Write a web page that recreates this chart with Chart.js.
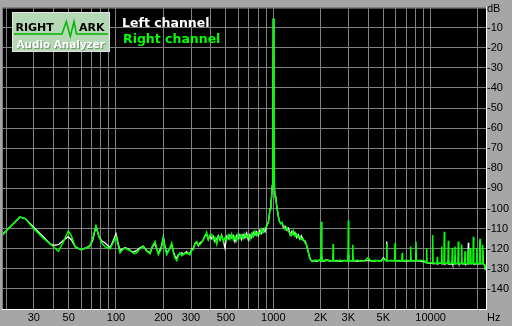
<!DOCTYPE html>
<html><head><meta charset="utf-8">
<script src="https://cdn.jsdelivr.net/npm/chart.js@4.4.1/dist/chart.umd.min.js"></script>
<style>
html,body{margin:0;padding:0;background:#a6a6a6;}
#wrap{position:relative;width:512px;height:326px;overflow:hidden;background:#a6a6a6;}
canvas{display:block;}
</style></head>
<body><div id="wrap"><canvas id="c" width="512" height="326"></canvas></div>
<script>
const freqs = [18.85,21,24.5,26.5,30,34.5,38,40,43,46,49.7,52,55,60,65,68,71,74.6,78,81,85,91.6,96,100,103,106,110,114,120,126,130,135,142,149,157,165,170,177,186,194,200,205,210,218,226,232,237,243,249,255,262,268,275,281,288,295,303,310,318,326,334,342,350,358,367,377,386,396,406,416,426,437,447,458,469,481,493,505,517,530,544,557,570,584,597,613,628,643,660,677,693,710,728,746,764,783,802,822,843,864,886,909,932,953,965,975,985,993,1000,1008,1017,1028,1040,1053,1066,1080,1097,1115,1134,1160,1190,1220,1250,1280,1310,1339,1370,1405,1440,1475,1510,1548,1590,1625,1665,1700,1725,1756,1790,1830,1870,1920,1978,2010,2023,2036,2100,2170,2250,2330,2388,2400,2412,2550,2650,2750,2850,2982,3000,3018,3180,3200,3220,3450,3600,3800,4000,4200,4400,4600,4850,5000,5220,5250,5280,5600,5905,5940,5975,6300,6560,6600,6640,7000,7430,7470,7510,8030,8075,8120,8600,9100,9390,9445,9500,9900,10250,10310,10370,10700,10970,11030,11090,11700,11770,11840,12150,12220,12290,12880,12960,13040,13660,13740,13820,14200,14290,14380,14900,15000,15100,15660,15760,15860,16450,16550,16650,17260,17370,17480,17870,17980,18090,18570,18690,18810,19520,19640,19760,20480,20610,20740,21300,21440,21580,22000,22170,22500];
const leftDb = [-113,-109.5,-104.3,-105,-109.3,-114,-117.5,-118.3,-118,-116,-114,-115.5,-119,-120.5,-119.5,-118.5,-116,-109,-114,-116,-117,-119.5,-116,-112.5,-117,-121,-120,-119.5,-120,-121.5,-121.5,-121,-119.5,-118.7,-121,-122,-119,-117.5,-122.5,-119,-114,-119,-122,-120.5,-118,-121.5,-123.5,-124.8,-123,-122.5,-122,-122.8,-122,-121.5,-122.5,-122.2,-120,-119.8,-117.5,-116.8,-118.5,-117,-116.5,-115.8,-113.5,-113,-115.5,-113.5,-115,-113.8,-116.5,-115,-113.5,-115.8,-113.2,-116,-119.7,-113.8,-115,-113.2,-114.6,-113.5,-116.5,-113.4,-114.8,-113,-115.5,-113,-114.6,-112.2,-115.5,-113,-114.5,-111.8,-113.2,-111.6,-113.5,-110.8,-112.4,-110.2,-111.6,-108.5,-106.5,-100,-97,-94.5,-88.5,-60,-5.5,-60,-90.5,-94,-96,-99,-101.8,-104.5,-106.6,-107.5,-107,-109.5,-108.8,-110.8,-109.8,-113.2,-111.4,-112.8,-111.8,-114.4,-113,-115.2,-113.6,-115.8,-116.2,-118,-121.3,-124,-125.4,-126.2,-126.2,-125.8,-126.3,-126,-125.8,-126,-124,-126,-126.3,-125.5,-126,-126.2,-126,-124,-126,-125.8,-126.3,-126,-125.8,-126.2,-123,-126,-126,-124.5,-126,-126.3,-125.8,-126,-125.8,-126,-126.2,-125.8,-126,-124.5,-126,-116.4,-126,-125.8,-126,-125,-126,-125.8,-126,-126,-126,-126.2,-126,-124,-126,-126,-122,-126,-126.2,-126.5,-127,-127,-127,-127.2,-127.3,-127,-127.5,-127.3,-127.5,-127.3,-127.5,-127.2,-127,-127.6,-127.4,-127.2,-127.5,-127.3,-126,-127.6,-127.5,-127,-127.8,-127.4,-126.5,-127.5,-127.3,-127,-127.6,-127.4,-127.2,-127.5,-127.4,-127.2,-127.6,-127.4,-117,-127.5,-127.4,-127.3,-127.5,-127.4,-127.4,-127.6,-127.5,-127.3,-127.5,-127.4,-116,-127.5,-127.4,-121,-127.5,-128,-130,-130.5];
const rightDb = [-113.5,-109.5,-104.2,-105,-110,-114.8,-117.5,-119,-121.3,-117,-111.2,-113.5,-119,-120.5,-119.5,-119,-115,-108.6,-114,-117,-119,-120,-117,-114,-118,-122.1,-120.5,-119.7,-120.5,-121.3,-122.5,-122.1,-120,-118.9,-121.3,-122.5,-119,-116.4,-122.9,-120,-114.8,-119.5,-122.9,-120.5,-117.2,-122,-124.6,-125.9,-123.5,-122.1,-123.5,-123,-122.1,-122.5,-122.1,-123,-120.5,-120.5,-117.2,-116.4,-118.2,-118,-117,-115.6,-114,-111.8,-115.5,-113.2,-112.8,-115.5,-114.5,-117.8,-113.8,-115.2,-113.5,-116.5,-114.5,-115.8,-113.2,-115.3,-112.6,-115.6,-114,-116,-112.8,-114.8,-113.3,-115,-112.6,-114.2,-113.4,-115.5,-112.5,-114,-111.2,-113.4,-111.8,-112.8,-110.2,-111.8,-109.6,-108.8,-106.6,-100.1,-97,-94.4,-88.6,-60,-5.3,-60,-90.4,-94,-96,-99,-101.8,-104.5,-106.6,-107.5,-107,-108.5,-110.5,-109.5,-111.5,-112.4,-113.5,-111,-113.6,-112.6,-114.5,-113.8,-115.4,-115,-117,-118,-121.3,-124.5,-125.4,-126.2,-126.4,-126,-125.6,-126,-125.4,-126,-106.6,-126,-125.8,-126,-125.6,-126.2,-126,-117.7,-126,-126.3,-125.7,-126.2,-125.9,-126,-106,-126,-126,-118,-126,-125.8,-126.2,-126,-124.5,-126.3,-125.8,-126,-126.2,-125,-126,-117.7,-126,-126,-126,-117.2,-126,-126.2,-126,-122,-126,-125.8,-126,-118.9,-126.2,-126,-116.4,-126,-125.8,-126,-127,-119.7,-127,-127,-127,-113.2,-127,-127.2,-127.3,-124,-127.2,-127,-118.9,-127.3,-127.2,-111.5,-127.2,-127.2,-116,-127.3,-127.2,-119.7,-127.3,-127.3,-118.9,-127.5,-127.2,-116.4,-127.4,-127.2,-117.9,-127.2,-127.3,-121.3,-127.3,-127.3,-120,-127.3,-127.2,-119.7,-127.3,-127.2,-114,-127.4,-127.3,-119.7,-127.4,-127.3,-115,-127.3,-127.3,-118,-127.5,-128,-130,-130.5];
const xTickValues = [20,30,40,50,60,70,80,90,100,200,300,400,500,600,700,800,900,1000,2000,3000,4000,5000,6000,7000,8000,9000,10000,20000];
const xTickLabels = {30:'30',50:'50',100:'100',200:'200',300:'300',500:'500',1000:'1000',2000:'2K',3000:'3K',5000:'5K',10000:'10000'};
const seriesNames = ['Left channel','Right channel'];
const seriesColors = ['#ffffff','#00ff00'];

const decor = {
  id:'decor',
  beforeDraw(chart){
    const {ctx, chartArea:a} = chart;
    ctx.save();
    ctx.fillStyle = '#000000';
    ctx.fillRect(a.left, a.top, a.right - a.left, a.bottom - a.top);
    ctx.restore();
  },
  afterDraw(chart){
    const {ctx, chartArea:a} = chart;
    ctx.save();
    ctx.strokeStyle = '#808080'; ctx.lineWidth = 1;
    ctx.beginPath();
    ctx.moveTo(a.left + 0.5, a.bottom); ctx.lineTo(a.left + 0.5, a.top + 0.5); ctx.lineTo(a.right, a.top + 0.5);
    ctx.stroke();
    ctx.fillStyle = '#000'; ctx.font = '11px "Liberation Sans", Arial, sans-serif';
    ctx.textAlign = 'left'; ctx.textBaseline = 'alphabetic';
    ctx.fillText('dB', a.right + 1, 11.5);
    ctx.fillText('Hz', a.right + 1, 320.5);
    ctx.fillStyle = '#b5d8b5';
    ctx.fillRect(12, 12, 98, 40);
    ctx.strokeStyle = '#e6e6e6'; ctx.strokeRect(12.5, 12.5, 97, 39);
    ctx.strokeStyle = '#00b400'; ctx.lineWidth = 1.5; ctx.lineJoin = 'miter';
    ctx.beginPath();
    ctx.moveTo(14, 34); ctx.lineTo(62, 34); ctx.lineTo(66.3, 21.5); ctx.lineTo(70.3, 36.5);
    ctx.lineTo(74, 21.5); ctx.lineTo(76.5, 34); ctx.lineTo(108, 34);
    ctx.stroke();
    ctx.font = 'bold 11px "DejaVu Sans", sans-serif';
    ctx.fillStyle = '#000';
    ctx.fillText('RIGHT', 15.5, 31);
    ctx.fillText('ARK', 79, 31);
    ctx.font = 'bold 10.4px "DejaVu Sans", sans-serif';
    ctx.fillStyle = '#6f8f6f';
    ctx.fillText('Audio Analyzer', 17.5, 48.5);
    ctx.fillStyle = '#ffffff';
    ctx.fillText('Audio Analyzer', 16.5, 47.5);
    ctx.font = 'bold 12.5px "DejaVu Sans", sans-serif';
    ctx.fillStyle = seriesColors[0];
    ctx.fillText(seriesNames[0], 122, 27);
    ctx.fillStyle = seriesColors[1];
    ctx.fillText(seriesNames[1], 123, 42.5);
    ctx.restore();
  }
};

new Chart(document.getElementById('c'), {
  type: 'line',
  data: {
    datasets: [
      { label: seriesNames[0], data: freqs.map((f,i)=>({x:f, y:leftDb[i]})), borderColor: seriesColors[0], borderWidth: 1.3, pointRadius: 0, tension: 0, order: 2 },
      { label: seriesNames[1], data: freqs.map((f,i)=>({x:f, y:rightDb[i]})), borderColor: seriesColors[1], borderWidth: 1.5, pointRadius: 0, tension: 0, order: 1 }
    ]
  },
  options: {
    responsive: false, animation: false, devicePixelRatio: 1,
    layout: { padding: { left: 2, top: 2, right: 0, bottom: 0 } },
    plugins: { legend: { display: false }, tooltip: { enabled: false } },
    scales: {
      x: {
        type: 'logarithmic', min: 18.85, max: 22500,
        afterBuildTicks: s => { s.ticks = xTickValues.map(v => ({ value: v })); },
        afterFit: s => { s.height = 17; },
        grid: { color: '#808080', lineWidth: 1, drawTicks: false },
        border: { color: '#ffffff', width: 1 },
        ticks: { autoSkip: false, maxRotation: 0, minRotation: 0, padding: 2, color: '#000',
          font: { family: '"Liberation Sans", Arial, sans-serif', size: 11 },
          callback: v => xTickLabels[v] || '' }
      },
      y: {
        position: 'right', min: -150, max: 0,
        afterFit: s => { s.width = 26; },
        grid: { color: '#808080', lineWidth: 1, drawTicks: false },
        border: { color: '#ffffff', width: 1 },
        ticks: { stepSize: 10, padding: 1, color: '#000',
          font: { family: '"Liberation Sans", Arial, sans-serif', size: 11 },
          callback: v => (v === 0 || v === -150) ? '' : String(v) }
      }
    }
  },
  plugins: [decor]
});
</script>
</body></html>
